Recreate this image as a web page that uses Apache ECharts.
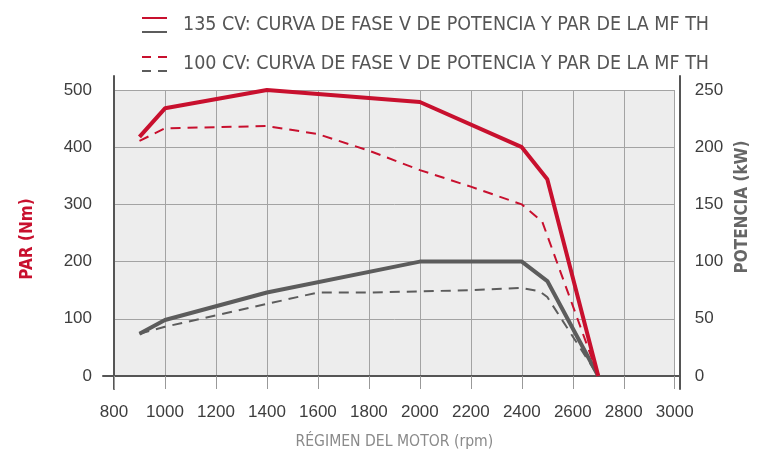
<!DOCTYPE html>
<html>
<head>
<meta charset="utf-8">
<script src="https://cdn.jsdelivr.net/npm/echarts@6/dist/echarts.min.js"></script>
<style>
  html, body { margin: 0; padding: 0; background: #fff; }
  #main { width: 759px; height: 455px; }
</style>
</head>
<body>
<div id="main"></div>
<script>
// datos
var name135 = '135 CV: CURVA DE FASE V DE POTENCIA Y PAR DE LA MF TH';
var name100 = '100 CV: CURVA DE FASE V DE POTENCIA Y PAR DE LA MF TH';

var rpm135 = [900, 1000, 1400, 2000, 2400, 2500, 2700];
var par135 = [418, 468, 500, 479, 400, 344, 0];      // Nm
var pot135 = [37, 49, 73, 100, 100, 83, 0];          // kW

var rpm100 = [900, 1000, 1200, 1400, 1600, 1800, 2000, 2200, 2400, 2480, 2700];
var par100 = [411, 433, 435, 437, 423, 394, 360, 331, 300, 270, 0];
var rpmPot100 = [900, 1000, 1200, 1400, 1600, 1800, 2000, 2200, 2400, 2470, 2500, 2700];
var pot100 = [37, 43, 53, 63, 73, 73, 74, 75, 77, 74, 69, 0];

var fuente = "'DejaVu Sans Condensed', 'Liberation Sans', sans-serif";
var fuenteNum = "'Liberation Sans', Arial, sans-serif";
var rojo = '#c8102e';
var gris = '#5c5c5c';

function pares(xs, ys) {
  var out = [];
  for (var i = 0; i < xs.length; i++) out.push([xs[i], ys[i]]);
  return out;
}

// iconos de leyenda: caja 36x16, linea arriba (roja) o abajo (gris)
var esquina = ' M35.99,15.99H36V16H35.99Z M0,0H0.01V0.01H0Z';
var iconRojoSolido = 'path://M0,0H25V2H0Z' + esquina;
var iconRojoGuion = 'path://M0,0H9V2H0Z M16,0H25V2H16Z' + esquina;
var iconGrisSolido = 'path://M0,14H25V16H0Z' + esquina;
var iconGrisGuion = 'path://M0,14H9V16H0Z M16,14H25V16H16Z' + esquina;

var myChart = echarts.init(document.getElementById('main'));

var legendBase = {
  orient: 'vertical',
  left: 142,
  top: 15,
  padding: 0,
  itemWidth: 36,
  itemHeight: 16,
  itemGap: 19,
  selectedMode: false,
  textStyle: { fontFamily: fuente, fontSize: 19.5, color: '#555', lineHeight: 16 }
};

function sinComa(v) { return String(v); }

var option = {
  animation: false,
  legend: [
    Object.assign({}, legendBase, {
      itemStyle: { color: rojo, borderWidth: 0 },
      data: [
        { name: name135, icon: iconRojoSolido },
        { name: name100, icon: iconRojoGuion }
      ]
    }),
    Object.assign({}, legendBase, {
      itemStyle: { color: gris, borderWidth: 0 },
      textStyle: { fontFamily: fuente, fontSize: 19.5, color: 'rgba(0,0,0,0)', lineHeight: 16 },
      data: [
        { name: name135, icon: iconGrisSolido },
        { name: name100, icon: iconGrisGuion }
      ]
    })
  ],
  grid: [
    { left: 114, right: 79, top: 90, bottom: 79, show: true, backgroundColor: '#ededed', borderWidth: 0 },
    // solo para las lineas verticales de los ejes
    { left: 114, right: 79, top: 76, bottom: 66 },
    // solo para la linea del eje x
    { left: 103, right: 79, top: 90, bottom: 79 }
  ],
  xAxis: [
    {
      type: 'value', gridIndex: 0, min: 800, max: 3000, interval: 200,
      axisLine: { show: false },
      axisTick: { show: true, inside: false, length: 13, lineStyle: { color: '#999', width: 1 } },
      splitLine: { show: true, lineStyle: { color: '#a3a3a3', width: 1 } },
      axisLabel: { color: '#3d3d3d', fontFamily: fuenteNum, fontSize: 17, margin: 28, formatter: sinComa },
      name: 'RÉGIMEN DEL MOTOR (rpm)',
      nameLocation: 'middle',
      nameGap: 58,
      nameTextStyle: { color: '#8a8a8a', fontFamily: fuente, fontSize: 15.6 }
    },
    { type: 'value', gridIndex: 1, min: 0, max: 1, show: false },
    {
      type: 'value', gridIndex: 2, min: 0, max: 1,
      axisLine: { show: true, lineStyle: { color: '#555', width: 2 } },
      axisTick: { show: false }, axisLabel: { show: false }, splitLine: { show: false }
    }
  ],
  yAxis: [
    {
      type: 'value', gridIndex: 0, min: 0, max: 500, interval: 100,
      axisLine: { show: false }, axisTick: { show: false },
      splitLine: { show: true, lineStyle: { color: '#a3a3a3', width: 1 } },
      axisLabel: { color: '#3d3d3d', fontFamily: fuenteNum, fontSize: 17, margin: 22, formatter: sinComa },
      name: 'PAR (Nm)',
      nameLocation: 'middle',
      nameGap: 78,
      nameTextStyle: { color: rojo, fontFamily: fuente, fontSize: 17, fontWeight: 'bold', padding: [0, 12, 0, 0] }
    },
    {
      type: 'value', gridIndex: 0, position: 'right', min: 0, max: 250, interval: 50,
      axisLine: { show: false }, axisTick: { show: false }, splitLine: { show: false },
      axisLabel: { color: '#3d3d3d', fontFamily: fuenteNum, fontSize: 17, margin: 20, formatter: sinComa },
      name: 'POTENCIA (kW)',
      nameLocation: 'middle',
      nameGap: 57,
      nameTextStyle: { color: '#666', fontFamily: fuente, fontSize: 17, fontWeight: 'bold', padding: [0, 0, 0, 52] }
    },
    {
      type: 'value', gridIndex: 1, min: 0, max: 1,
      axisLine: { show: true, lineStyle: { color: '#555', width: 2 } },
      axisTick: { show: false }, axisLabel: { show: false }, splitLine: { show: false }
    },
    {
      type: 'value', gridIndex: 1, position: 'right', min: 0, max: 1,
      axisLine: { show: true, lineStyle: { color: '#555', width: 2 } },
      axisTick: { show: false }, axisLabel: { show: false }, splitLine: { show: false }
    },
    { type: 'value', gridIndex: 2, min: 0, max: 1, show: false }
  ],
  series: [
    {
      name: name100, type: 'line', yAxisIndex: 1, symbol: 'none', z: 2,
      lineStyle: { color: gris, width: 2, type: [10, 7] }, itemStyle: { color: gris },
      data: pares(rpmPot100, pot100)
    },
    {
      name: name135, type: 'line', yAxisIndex: 1, symbol: 'none', z: 3,
      lineStyle: { color: gris, width: 4 }, itemStyle: { color: gris },
      data: pares(rpm135, pot135)
    },
    {
      name: name100, type: 'line', yAxisIndex: 0, symbol: 'none', z: 4,
      lineStyle: { color: rojo, width: 2, type: [10, 7] }, itemStyle: { color: rojo },
      data: pares(rpm100, par100)
    },
    {
      name: name135, type: 'line', yAxisIndex: 0, symbol: 'none', z: 5,
      lineStyle: { color: rojo, width: 4 }, itemStyle: { color: rojo },
      data: pares(rpm135, par135)
    }
  ]
};

myChart.setOption(option);
</script>
</body>
</html>
